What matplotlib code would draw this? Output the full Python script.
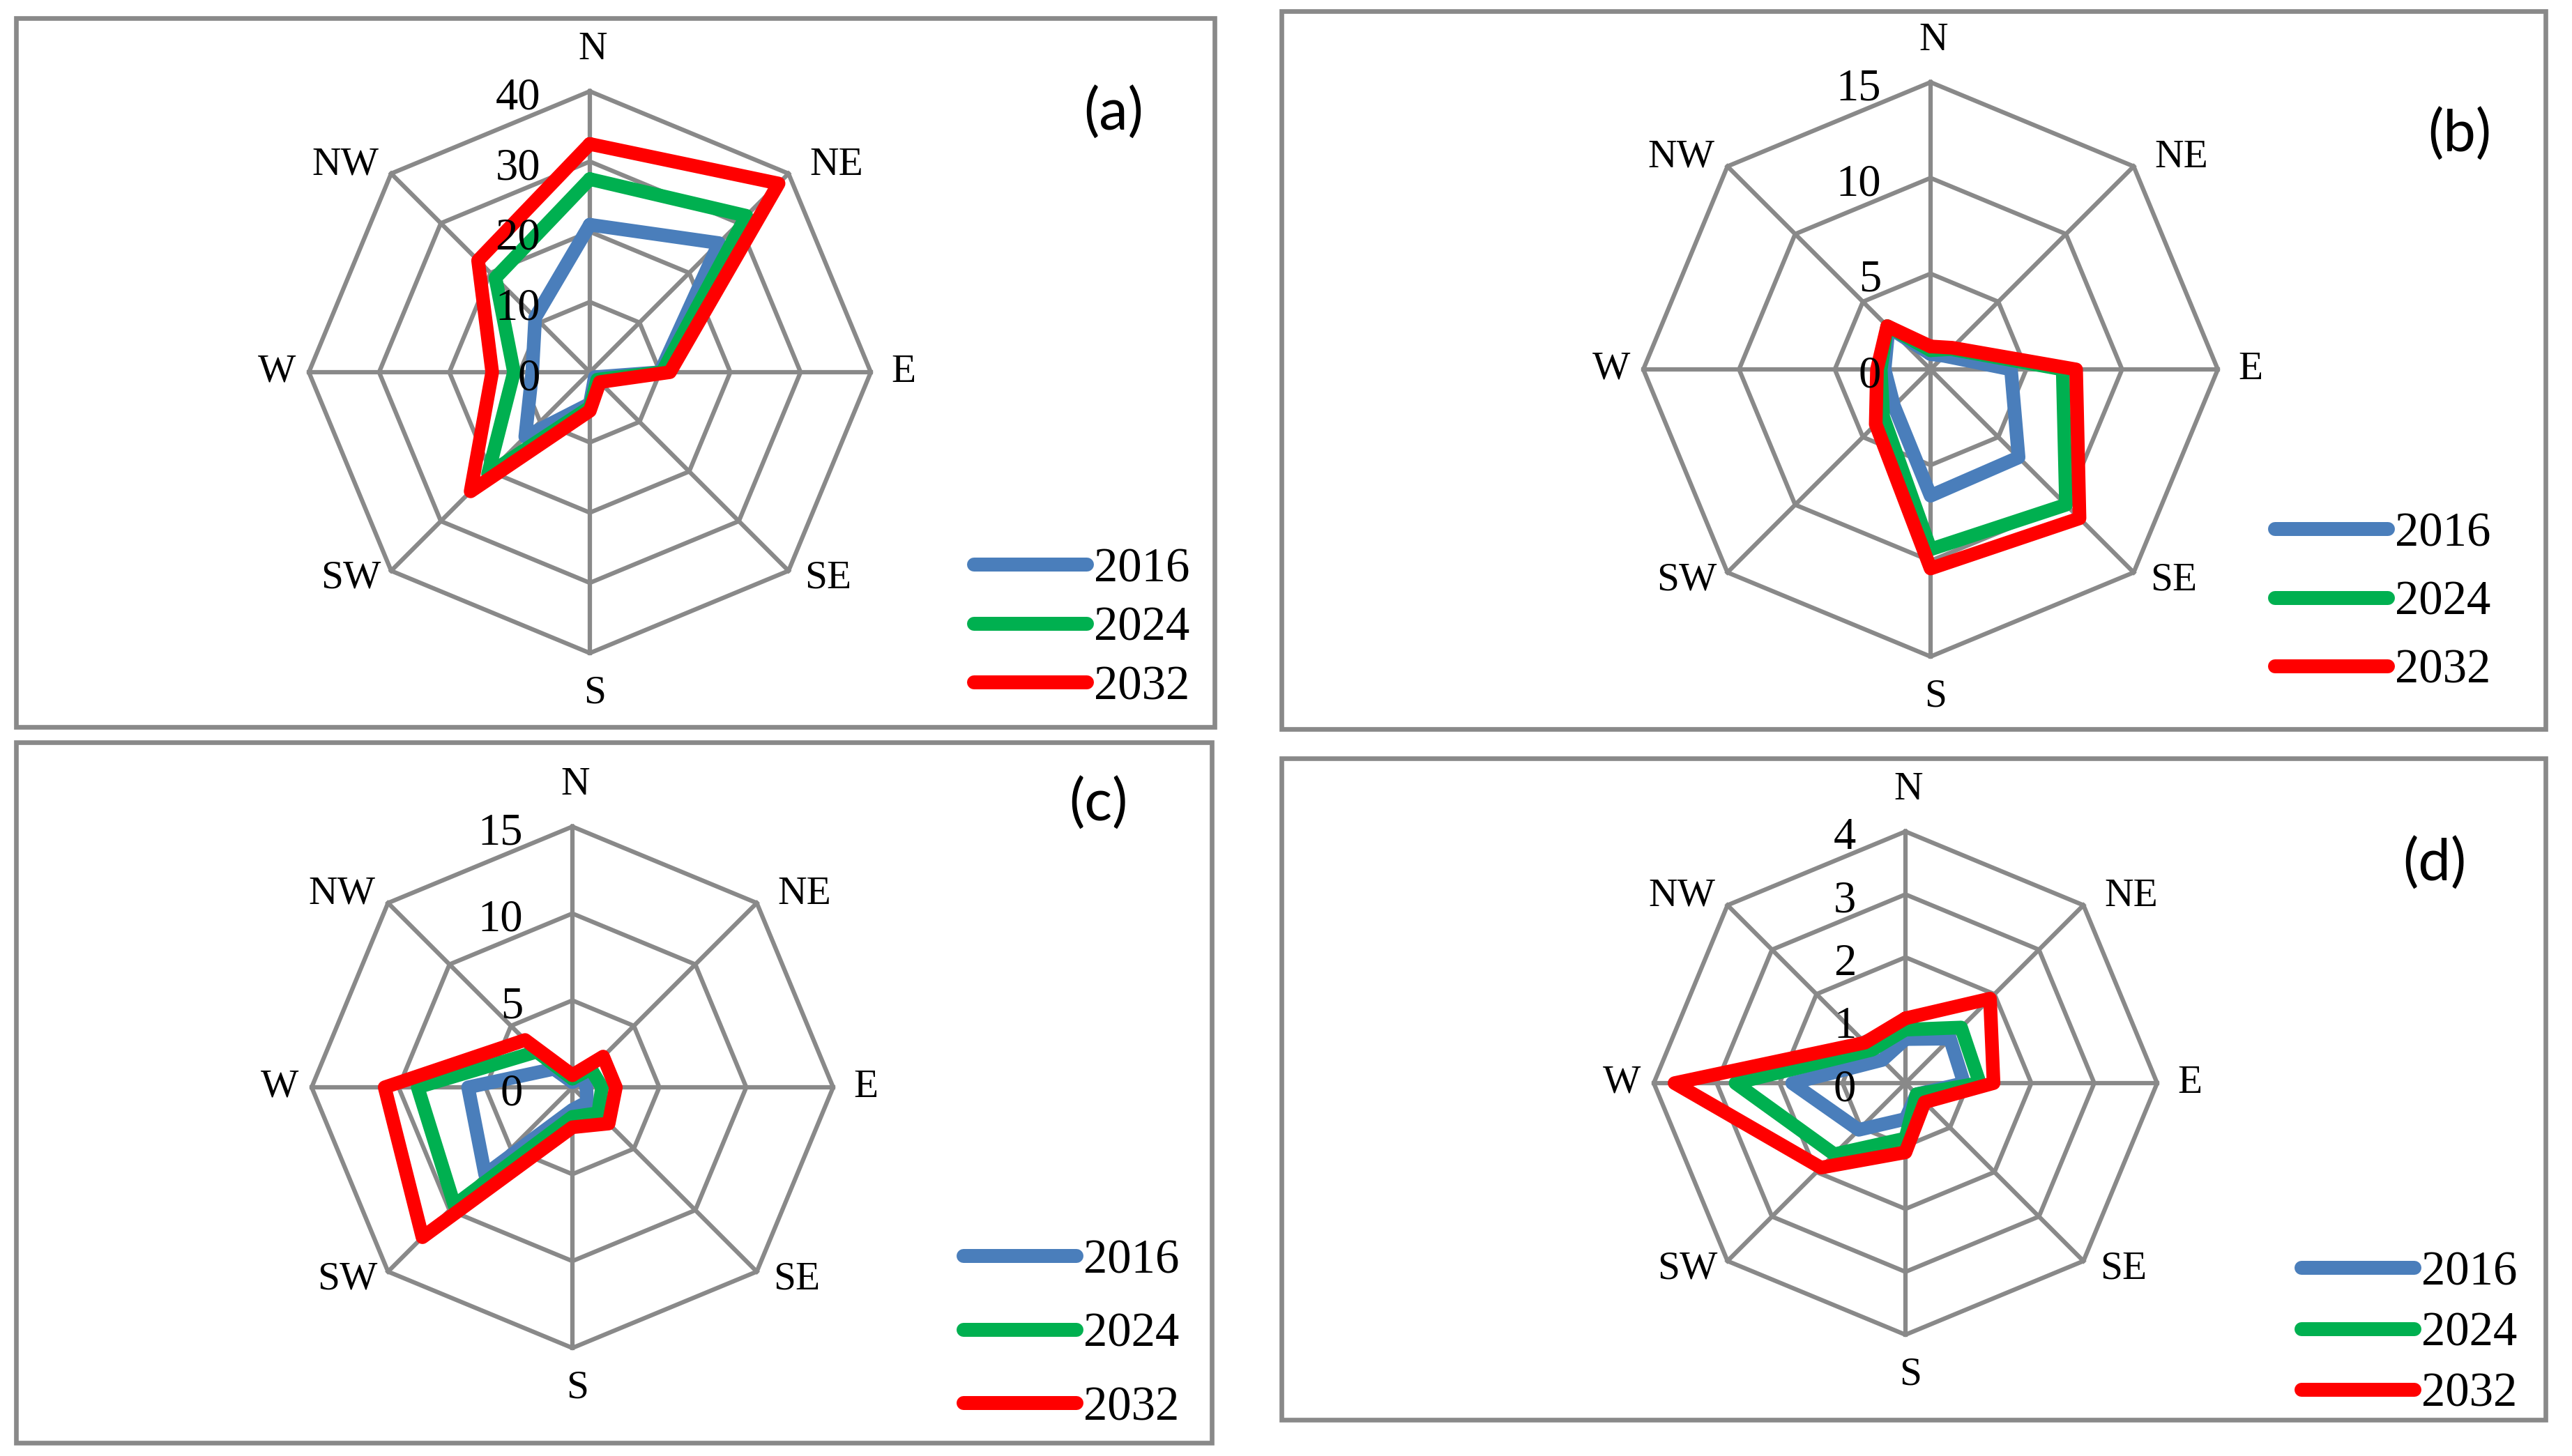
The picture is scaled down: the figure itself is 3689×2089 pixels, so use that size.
import numpy as np
import matplotlib.pyplot as plt
from matplotlib.lines import Line2D
from matplotlib.patches import Rectangle

W, H = 3689, 2089
DPI = 300

directions = ["N", "NE", "E", "SE", "S", "SW", "W", "NW"]
years = ["2016", "2024", "2032"]
colors = ["#4a7ebb", "#00b050", "#ff0000"]
grid_color = "#898989"

# values read per direction, N -> NW clockwise
a_2016 = [21, 26, 10, 1, 4.5, 13, 8.2, 11]
a_2024 = [27.5, 31.5, 10.3, 1.5, 5, 20.5, 10.8, 19]
a_2032 = [32.5, 38, 11.4, 2, 5.5, 24, 13.9, 22.5]
a_ticks = [0, 10, 20, 30, 40]

b_2016 = [0.8, 1, 4.2, 6.5, 6.6, 2.7, 2.4, 3.1]
b_2024 = [1, 1.5, 6.9, 10, 9.4, 3.5, 2.6, 3.2]
b_2032 = [1.2, 1.6, 7.6, 11, 10.4, 4.05, 2.8, 3.2]
b_ticks = [0, 5, 10, 15]

c_2016 = [0.3, 0.8, 0.8, 1.2, 1.3, 7.1, 6.0, 1.5]
c_2024 = [0.5, 1.5, 1.7, 2.1, 1.7, 9.6, 8.9, 2.9]
c_2032 = [0.7, 2.5, 2.5, 2.95, 2.3, 12.2, 10.8, 3.85]
c_ticks = [0, 5, 10, 15]

d_2016 = [0.7, 1.0, 0.93, 0.25, 0.57, 1.05, 1.8, 0.52]
d_2024 = [0.85, 1.25, 1.18, 0.25, 0.88, 1.6, 2.7, 0.75]
d_2032 = [1.03, 1.9, 1.4, 0.43, 1.1, 1.9, 3.67, 0.91]
d_ticks = [0, 1, 2, 3, 4]

# layout in pixels: chart centre, radius, frame box, legend anchor, row gap, tag centre
panels = [
    dict(tag="(a)", series=[a_2016, a_2024, a_2032], ticks=a_ticks,
         centre=(846, 534), radius=403, frame=(23, 26, 1742, 1043),
         leg=(1387, 902), gap=84, tag_xy=(1597, 163)),
    dict(tag="(b)", series=[b_2016, b_2024, b_2032], ticks=b_ticks,
         centre=(2769, 530), radius=412, frame=(1838, 16, 3651, 1046),
         leg=(3253, 865), gap=98, tag_xy=(3528, 194)),
    dict(tag="(c)", series=[c_2016, c_2024, c_2032], ticks=c_ticks,
         centre=(821, 1560), radius=374, frame=(23, 1065, 1738, 2070),
         leg=(1372, 1915), gap=105, tag_xy=(1575, 1154)),
    dict(tag="(d)", series=[d_2016, d_2024, d_2032], ticks=d_ticks,
         centre=(2733, 1554), radius=361, frame=(1838, 1088, 3651, 2037),
         leg=(3291, 1914), gap=87, tag_xy=(3492, 1240)),
]

# label offsets (points) from the outer vertex of each spoke
dir_offsets = {
    "N": (1, 14.4), "NE": (16.5, 3), "E": (11.3, 0), "SE": (13.7, -2.6),
    "S": (1.7, -13.7), "SW": (-13.9, -2.6), "W": (-11, 0), "NW": (-15.8, 3.1),
}

serif = "Liberation Serif"
fig = plt.figure(figsize=(W / DPI, H / DPI), dpi=DPI)
fig.patch.set_facecolor("white")

theta = np.deg2rad(np.arange(0, 360, 45))
theta_closed = np.append(theta, theta[0])


def px(x, y):
    return x / W, 1 - y / H


for p in panels:
    cx, cy = p["centre"]
    R = p["radius"]
    rmax = p["ticks"][-1]

    # frame round the panel
    x0, y0, x1, y1 = p["frame"]
    fx0, fy1 = px(x0, y1)
    fx1, fy0 = px(x1, y0)
    fig.add_artist(Rectangle((fx0, fy1), fx1 - fx0, fy0 - fy1, transform=fig.transFigure,
                             fill=False, edgecolor=grid_color, linewidth=1.6))

    left, bottom = px(cx - R, cy + R)
    ax = fig.add_axes([left, bottom, 2 * R / W, 2 * R / H], projection="polar")
    ax.set_theta_zero_location("N")
    ax.set_theta_direction(-1)
    ax.set_ylim(0, rmax)
    ax.spines["polar"].set_visible(False)
    ax.set_facecolor("none")
    ax.set_xticks(theta)
    ax.set_xticklabels([])
    ax.set_yticks([])
    ax.grid(False)

    # spokes
    for t in theta:
        ax.plot([t, t], [0, rmax], color=grid_color, linewidth=1.5, clip_on=False, zorder=1)
    # octagon rings
    for v in p["ticks"][1:]:
        ax.plot(theta_closed, [v] * 9, color=grid_color, linewidth=1.5,
                clip_on=False, zorder=1, solid_joinstyle="miter")

    # series
    for vals, col in zip(p["series"], colors):
        vals_closed = list(vals) + [vals[0]]
        ax.plot(theta_closed, vals_closed, color=col, linewidth=4.7, clip_on=False,
                zorder=3, solid_joinstyle="round", solid_capstyle="round")

    # direction labels
    for t, d in zip(theta, directions):
        dx, dy = dir_offsets[d]
        ax.annotate(d, xy=(t, rmax), xytext=(dx, dy), textcoords="offset points",
                    ha="center", va="center", fontsize=13.8, family=serif,
                    annotation_clip=False)

    # ring labels
    for v in p["ticks"]:
        ax.annotate(str(v), xy=(0, v), xytext=(-17, -2.3), textcoords="offset points",
                    ha="right", va="center", fontsize=15.5, family=serif,
                    annotation_clip=False)

    # panel tag
    tx, ty = px(*p["tag_xy"])
    fig.text(tx, ty, p["tag"], ha="center", va="center", fontsize=20, family="Lato")

    # legend
    handles = [Line2D([0], [0], color=c, linewidth=4.8, solid_capstyle="round")
               for c in colors]
    lx, ly = px(*p["leg"])
    fs = 16.5
    row_h = fs * DPI / 72
    fig.legend(handles, years, loc="center left", bbox_to_anchor=(lx + 10 / W, ly),
               bbox_transform=fig.transFigure, frameon=False,
               prop={"family": serif, "size": fs}, handlelength=2.35,
               handletextpad=0.15, borderpad=0, borderaxespad=0,
               labelspacing=(p["gap"] - row_h * 0.92) / row_h)

fig.savefig("out.png", dpi=DPI, facecolor="white")
